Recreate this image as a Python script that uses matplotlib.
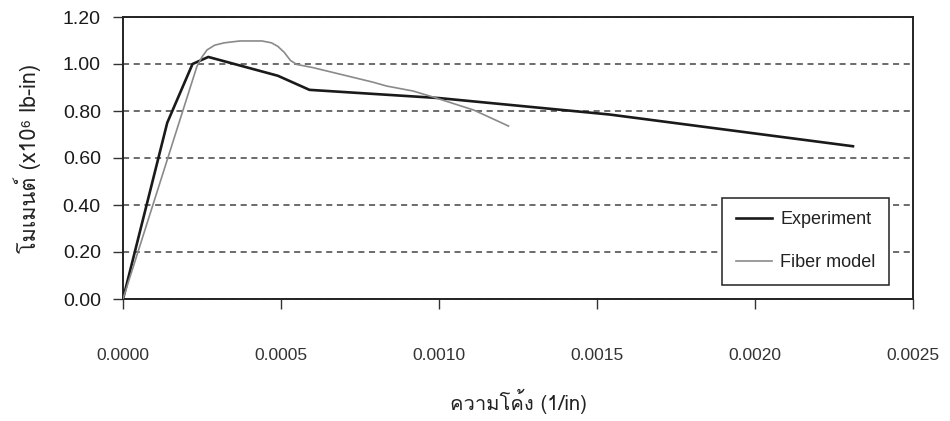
import matplotlib
matplotlib.use("Agg")
import matplotlib.pyplot as plt
from matplotlib import font_manager
from matplotlib.ft2font import FT2Font

# curvature (1/in) and moment (x10^6 lb-in)
exp_curv = [0.0, 0.00014, 0.00022, 0.00027, 0.00049, 0.00059, 0.00100, 0.00154, 0.00231]
exp_moment = [0.0, 0.75, 1.00, 1.03, 0.95, 0.89, 0.855, 0.785, 0.65]

fib_curv = [0.0, 0.000234, 0.00025, 0.000266, 0.00029, 0.00032, 0.00037, 0.00044,
            0.00047, 0.00049, 0.00051, 0.00053, 0.00055, 0.00060, 0.00079,
            0.000835, 0.000918, 0.00098, 0.00111, 0.00122]
fib_moment = [0.0, 0.99, 1.03, 1.06, 1.08, 1.09, 1.098, 1.098,
              1.09, 1.075, 1.05, 1.015, 0.998, 0.985, 0.923,
              0.906, 0.885, 0.86, 0.804, 0.736]

x_ticks = [0.0, 0.0005, 0.0010, 0.0015, 0.0020, 0.0025]
y_ticks = [0.0, 0.2, 0.4, 0.6, 0.8, 1.0, 1.2]

series_names = ["Experiment", "Fiber model"]
x_title = "ความโค้ง (1/in)"
y_title = "โมเมนต์ (x10\u2076 lb-in)"

# find an installed font that has Thai glyphs
thai_font = None
for f in font_manager.fontManager.ttflist:
    try:
        if 0x0E04 in FT2Font(f.fname).get_charmap():
            thai_font = f.name
            break
    except Exception:
        pass
families = ([thai_font] if thai_font else []) + ["Liberation Sans", "DejaVu Sans"]

plt.rcParams["font.family"] = ["Liberation Sans", "DejaVu Sans"]

fig = plt.figure(figsize=(9.5, 4.21), dpi=100)
ax = fig.add_axes([123 / 950, 1 - 299 / 421, 790 / 950, 282 / 421])

ax.plot(exp_curv, exp_moment, color="#1a1a1a", lw=1.9, label=series_names[0], zorder=3)
ax.plot(fib_curv, fib_moment, color="#8a8a8a", lw=1.2, label=series_names[1], zorder=3)

ax.set_xlim(0, 0.0025)
ax.set_ylim(0, 1.2)
ax.set_xticks(x_ticks)
ax.set_yticks(y_ticks)
ax.set_xticklabels(["%.4f" % v for v in x_ticks])
ax.set_yticklabels(["%.2f" % v for v in y_ticks])

ax.yaxis.grid(True, linestyle=(0, (4, 3)), color="#444444", lw=1.1)
ax.set_axisbelow(True)
for s in ax.spines.values():
    s.set_color("#222222")
    s.set_linewidth(1.4)

ax.tick_params(axis="x", direction="out", length=7, width=1, color="#333333",
               pad=28, labelsize=12.5, labelcolor="#333333")
ax.tick_params(axis="y", direction="out", length=7, width=1, color="#333333",
               pad=9, labelsize=14, labelcolor="#1a1a1a")

ax.set_xlabel(x_title, family=families, fontsize=14.5, color="#222222")
ax.xaxis.set_label_coords(0.5, -0.365)
ax.xaxis.label.set_va("center")
ax.set_ylabel(y_title, family=families, fontsize=15.5, color="#222222")
ax.yaxis.set_label_coords(-0.1215, 0.5)
ax.yaxis.label.set_va("center")

leg = ax.legend(loc="lower right", bbox_to_anchor=((889 - 123) / 790, (299 - 285) / 282),
                borderaxespad=0, fancybox=False, framealpha=1, edgecolor="#222222",
                fontsize=13, labelspacing=1.45, handlelength=2.0, handletextpad=0.45,
                borderpad=0.75)
leg.get_frame().set_linewidth(1.1)
for t in leg.get_texts():
    t.set_color("#222222")

fig.savefig("out.png", dpi=100)
